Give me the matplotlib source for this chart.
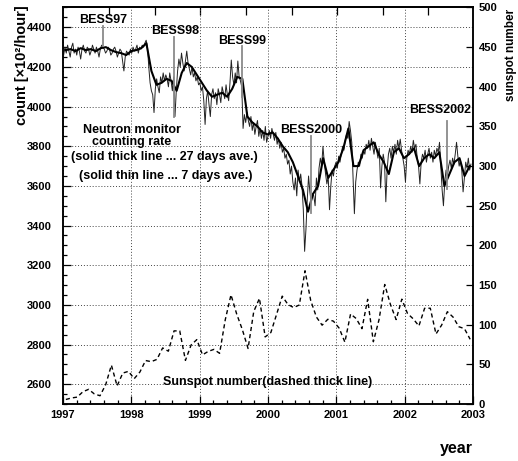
import numpy as np
import matplotlib
matplotlib.use("Agg")
import matplotlib.pyplot as plt
from matplotlib.ticker import MultipleLocator, NullFormatter

plt.rcParams['font.family'] = ['Liberation Sans', 'DejaVu Sans']

# ---------------- data ----------------
# Neutron monitor counting rate, 7-day averages (x100 counts/hour), one year per block
nm_7day = [
    # 1997
    4260, 4300, 4270, 4310, 4280, 4250, 4300, 4320, 4270, 4290,
    4260, 4300, 4280, 4240, 4290, 4310, 4280, 4270, 4300, 4290,
    4260, 4280, 4310, 4290, 4270, 4300, 4280, 4250, 4290, 4310,
    4300, 4290, 4270, 4280, 4300, 4290, 4260, 4270, 4290, 4300,
    4280, 4250, 4270, 4290, 4280, 4230, 4180, 4250, 4280, 4270,
    4260, 4290,
    # 1998
    4270, 4300, 4280, 4290, 4310, 4270, 4300, 4290, 4310, 4300,
    4320, 4335, 4300, 4200, 4120, 4080, 4060, 3970, 4090, 4140,
    4100, 4070, 4150, 4120, 4170, 4130, 4160, 4140, 4100, 4170,
    4130, 4080, 4150, 3950, 4080, 4180, 4240, 4200, 4270, 4220,
    4180, 4230, 4280, 4220, 4190, 4160, 4200, 4150, 4170, 4130,
    4150, 4110,
    # 1999
    4120, 4080, 4100, 4030, 3910, 4040, 4080, 4010, 3950, 4060,
    4090, 4040, 4070, 4010, 4090, 4060, 4020, 4100, 4070, 4040,
    4110, 4060, 4030, 4120, 4235, 4150, 4110, 4170, 4120, 4230,
    4150, 4130, 4100, 3890, 3960, 3920, 3970, 3930, 3900, 3950,
    3880, 3920, 3860, 3900, 3930, 3850, 3890, 3840, 3880, 3830,
    3900, 3820,
    # 2000
    3850, 3880, 3840, 3890, 3860, 3830, 3870, 3810, 3840, 3790,
    3820, 3770, 3790, 3740, 3760, 3710, 3730, 3660, 3700, 3620,
    3580, 3640, 3550, 3680, 3620, 3660, 3600, 3480, 3270, 3380,
    3530, 3650, 3570, 3520, 3560, 3550, 3500, 3640, 3580, 3690,
    3740, 3700, 3800, 3720, 3660, 3610, 3650, 3480, 3600, 3680,
    3650, 3700,
    # 2001
    3720, 3690, 3750, 3720, 3760, 3800, 3780, 3830, 3860, 3840,
    3925, 3880, 3820, 3640, 3460, 3620, 3680, 3720, 3700, 3760,
    3740, 3780, 3760, 3810, 3790, 3830, 3780, 3840, 3800, 3760,
    3820, 3780, 3740, 3790, 3590, 3700, 3760, 3720, 3520, 3680,
    3760, 3790, 3740, 3800, 3770, 3810, 3760, 3830, 3790, 3836,
    3780, 3740,
    # 2002
    3700, 3620, 3740, 3780, 3760, 3800, 3770, 3830, 3790, 3810,
    3740, 3700, 3610, 3720, 3760, 3740, 3780, 3720, 3760, 3790,
    3740, 3770, 3720, 3780, 3750, 3790, 3770, 3820, 3700, 3580,
    3500, 3620, 3680, 3650, 3700, 3730, 3690, 3740, 3710, 3760,
    3820, 3750, 3700, 3730, 3680, 3570, 3640, 3720, 3690, 3740,
    3680, 3710,
]

# Neutron monitor counting rate, 27-day (Bartels rotation) averages
nm_27day = [
    4285, 4290, 4280, 4295, 4285, 4290, 4280, 4295, 4300, 4285,
    4275, 4270, 4260, 4280, 4285, 4295, 4320, 4180, 4110, 4120,
    4140, 4130, 4080, 4170, 4220, 4200, 4160, 4120, 4080, 4050,
    4060, 4070, 4050, 4090, 4150, 4140, 3950, 3920, 3900, 3870,
    3860, 3870, 3840, 3800, 3770, 3720, 3650, 3580, 3470, 3560,
    3600, 3740, 3640, 3680, 3720, 3790, 3890, 3700, 3700, 3780,
    3800, 3820, 3760, 3720, 3660, 3770, 3790, 3740, 3760, 3790,
    3700, 3740, 3760, 3740, 3770, 3600, 3660, 3720, 3740, 3650,
    3700,
]

# Monthly sunspot number, Jan 1997 - Dec 2002
sunspot = [
    5.7, 7.6, 8.7, 15.5, 18.5, 12.7, 10.4, 24.4, 49.0, 22.8, 39.0, 41.2,
    31.9, 40.3, 54.8, 53.4, 56.3, 70.7, 66.6, 92.2, 92.2, 55.0, 74.5, 81.2,
    62.0, 66.3, 68.9, 63.9, 106.4, 137.7, 113.5, 93.7, 70.0, 116.7, 133.2, 84.6,
    90.1, 112.9, 136.0, 125.5, 121.6, 124.9, 168.0, 130.5, 109.7, 99.4, 106.8, 104.4,
    95.6, 78.0, 113.5, 107.7, 95.0, 132.0, 78.5, 106.4, 150.7, 125.5, 106.5, 132.2,
    114.1, 107.4, 98.4, 120.7, 120.8, 88.3, 99.6, 116.4, 109.6, 97.5, 95.0, 81.6,
]

# BESS balloon flights: label, flight time (year), marker span (counts)
bess_names = ["BESS97", "BESS98", "BESS99", "BESS2000", "BESS2002"]
bess_years = [1997.58, 1998.625, 1999.615, 2000.63, 2002.62]
bess_top = [4405, 4350, 4305, 3850, 3925]
bess_bottom = [4305, 3950, 4050, 3465, 3585]

x_ticks = [1997, 1998, 1999, 2000, 2001, 2002, 2003]
top_ticks = [1997.678, 1998.345, 1999.012, 1999.678, 2000.345, 2001.012, 2001.678, 2002.345]

# ---------------- time axes ----------------
t7 = 1997 + (np.arange(len(nm_7day)) + 0.5) * 7 / 365.25
t27 = 1997 + (np.arange(len(nm_27day)) + 0.5) * 27 / 365.25
tm = 1997 + (np.arange(len(sunspot)) + 0.5) / 12

# ---------------- figure ----------------
W, H = 518, 461
fig = plt.figure(figsize=(W / 100, H / 100), dpi=100)
ax = fig.add_axes([63 / W, 1 - 404 / H, 410 / W, (404 - 7.5) / H])

grid_kw = dict(color='#444444', lw=0.7, linestyle=(0, (1, 2)))
ax.grid(True, which='major', **grid_kw)
ax.set_axisbelow(True)

ax.plot(t7, nm_7day, color='#222222', lw=0.7, zorder=3)
ax.plot(t27, nm_27day, color='black', lw=1.5, zorder=4)

for name, yr, top, bot in zip(bess_names, bess_years, bess_top, bess_bottom):
    ax.plot([yr, yr], [bot, top], color='#8a8a8a', lw=1.3, zorder=5)

label_kw = dict(fontsize=9, fontweight='bold', ha='center', va='center', zorder=6)
ax.text(1997.585, 4437, "BESS97", **label_kw)
ax.text(1998.64, 4381, "BESS98", **label_kw)
ax.text(1999.62, 4331, "BESS99", **label_kw)
ax.text(2000.63, 3882, "BESS2000", **label_kw)
ax.text(2002.515, 3985, "BESS2002", **label_kw)

ax.text(1998.01, 3882, "Neutron monitor", **label_kw)
ax.text(1998.01, 3822, "counting rate", **label_kw)
ax.text(1998.49, 3745, "(solid thick line ... 27 days ave.)", **label_kw)
ax.text(1998.51, 3652, "(solid thin line ... 7 days ave.)", **label_kw)
ax.text(1999.99, 2612, "Sunspot number(dashed thick line)", **label_kw)

ax.set_xlim(1997, 2003)
ax.set_ylim(2500, 4500)
ax.set_xticks(x_ticks)
ax.xaxis.set_minor_locator(MultipleLocator(0.2))
ax.yaxis.set_major_locator(MultipleLocator(200))
ax.yaxis.set_minor_locator(MultipleLocator(50))
ax.tick_params(which='both', direction='in', top=False, right=False, width=0.9)
ax.tick_params(which='major', length=6)
ax.tick_params(which='minor', length=3)
ax.tick_params(axis='y', pad=8)
ax.tick_params(axis='x', pad=4)
for lab in ax.get_xticklabels() + ax.get_yticklabels():
    lab.set_fontsize(8)
    lab.set_fontweight('bold')
for s in ax.spines.values():
    s.set_linewidth(1.1)

# sunspot number on the right-hand scale
ax2 = ax.twinx()
ax2.plot(tm, sunspot, color='black', lw=1.0, linestyle=(0, (3, 2.2)), zorder=3)
ax2.set_ylim(0, 500)
ax2.yaxis.set_major_locator(MultipleLocator(50))
ax2.tick_params(axis='y', direction='in', length=5, width=0.9, pad=4)
for lab in ax2.get_yticklabels():
    lab.set_fontsize(8)
    lab.set_fontweight('bold')
for s in ax2.spines.values():
    s.set_linewidth(1.1)

sec = ax.secondary_xaxis('top')
sec.set_xticks(top_ticks)
sec.xaxis.set_major_formatter(NullFormatter())
sec.tick_params(direction='in', length=6, width=0.9)
sec.spines['top'].set_linewidth(1.1)

fig.text(22 / W, 1 - 65 / H, "count [×10²/hour]", rotation=90, ha='center', va='center',
         fontsize=10.5, fontweight='bold')
fig.text(511 / W, 1 - 55 / H, "sunspot number", rotation=90, ha='center', va='center',
         fontsize=8.5, fontweight='bold')
fig.text(456 / W, 1 - 448 / H, "year", ha='center', va='center', fontsize=11.5, fontweight='bold')

fig.savefig("out.png", dpi=100)
